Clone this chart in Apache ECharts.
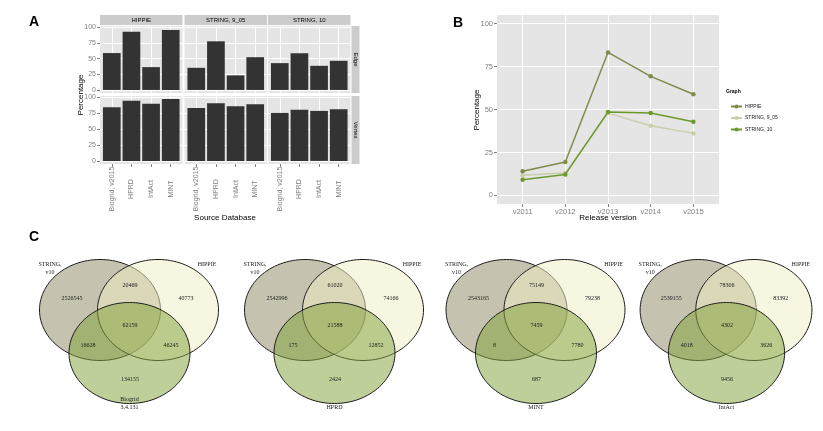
<!DOCTYPE html>
<html>
<head>
<meta charset="utf-8">
<script src="https://cdn.jsdelivr.net/npm/echarts@6/dist/echarts.min.js"></script>
<style>
html, body { margin: 0; padding: 0; background: #fff; }
#chart { width: 823px; height: 431px; }
</style>
</head>
<body>
<div id="chart"></div>
<script>
// panel A: share of source db covered, per graph and measure
const sources = ['Biogrid, v2015', 'HPRD', 'IntAct', 'MINT'];
const graphs = ['HIPPIE', 'STRING, 9_05', 'STRING, 10'];
const measures = ['Edge', 'Vertex'];
const edgeHIPPIE = [59, 93, 36.5, 95.8];
const edgeString905 = [35.4, 77.8, 23.3, 52.4];
const edgeString10 = [42.9, 58.7, 38.6, 46.6];
const vertexHIPPIE = [84.5, 94.8, 90.2, 97.4];
const vertexString905 = [83.4, 90.7, 86, 89.1];
const vertexString10 = [75.6, 80.8, 78.8, 81.3];
const percentTicks = [0, 25, 50, 75, 100];

// panel B
const releases = ['v2011', 'v2012', 'v2013', 'v2014', 'v2015'];
const lineHIPPIE = [14.1, 19.5, 83.2, 69.3, 58.9];
const lineString905 = [11.8, 13, 47.9, 40.5, 36.1];
const lineString10 = [9.1, 12.2, 48.6, 47.9, 42.9];

// panel C: regions = STRING only, STRING&HIPPIE, HIPPIE only, all, STRING&third, HIPPIE&third, third only
const vennLeftSet = 'STRING,\nv10';
const vennRightSet = 'HIPPIE';
const vennThird = ['Biogrid\n3.4.131', 'HPRD', 'MINT', 'IntAct'];
const countsBiogrid = [2526545, 20469, 40773, 62159, 16628, 46245, 134155];
const countsHPRD = [2542996, 61020, 74166, 21588, 175, 12852, 2424];
const countsMINT = [2543165, 75149, 79238, 7459, 8, 7780, 687];
const countsIntAct = [2539155, 78306, 83392, 4302, 4018, 3626, 9456];

const sans = '"Liberation Sans", Arial, sans-serif';
const serif = '"Liberation Serif", "Times New Roman", serif';
const grey = '#7f7f7f';

const edgeRows = [edgeHIPPIE, edgeString905, edgeString10];
const vertexRows = [vertexHIPPIE, vertexString905, vertexString10];
const facetData = [edgeRows, vertexRows];

// facet layout
const colLeft = [100, 184.5, 268], colW = 82.5;
const rowTop = [26, 96], rowH = [67, 68];
const barW = colW / 4.2 * 0.9;

const grid = [], xAxis = [], yAxis = [], series = [];
let gi = 0;
for (let r = 0; r < 2; r++) {
  for (let c = 0; c < 3; c++) {
    grid.push({ left: colLeft[c], top: rowTop[r], width: colW, height: rowH[r],
      show: true, backgroundColor: '#e5e5e5', borderWidth: 0 });
    xAxis.push({ gridIndex: gi, type: 'value', min: 0.4, max: 4.6,
      axisLine: { show: false, onZero: false },
      axisTick: { show: r === 1, length: 3, lineStyle: { color: grey }, customValues: [1, 2, 3, 4] },
      axisLabel: { show: r === 1, rotate: 90, margin: 25, align: 'center', verticalAlign: 'middle',
        fontSize: 7, color: grey, fontFamily: sans,
        customValues: [1, 2, 3, 4], formatter: v => sources[v - 1] },
      splitLine: { show: true, lineStyle: { color: '#fff', width: 1 } } });
    yAxis.push({ gridIndex: gi, type: 'value', min: -4.9, max: 102.3,
      axisLine: { show: false },
      axisTick: { show: c === 0, length: 3, lineStyle: { color: grey }, customValues: percentTicks },
      axisLabel: { show: c === 0, margin: 4, fontSize: 7, color: grey, fontFamily: sans,
        customValues: percentTicks },
      splitLine: { show: true, lineStyle: { color: '#fff', width: 1 } } });
    series.push({ type: 'bar', xAxisIndex: gi, yAxisIndex: gi, barWidth: barW,
      itemStyle: { color: '#333333' }, silent: true,
      data: facetData[r][c].map((v, i) => [i + 1, v]) });
    gi++;
  }
}

// panel B
const lineColors = ['#7d8c4a', '#c8cfa9', '#6a9a2a'];
grid.push({ left: 497, top: 15, width: 222, height: 189, show: true, backgroundColor: '#e5e5e5', borderWidth: 0 });
xAxis.push({ gridIndex: gi, type: 'value', min: 0.4, max: 5.6,
  axisLine: { show: false, onZero: false },
  axisTick: { show: true, length: 3, lineStyle: { color: grey }, customValues: [1, 2, 3, 4, 5] },
  axisLabel: { margin: 4, fontSize: 7.5, color: grey, fontFamily: sans,
    customValues: [1, 2, 3, 4, 5], formatter: v => releases[v - 1] },
  splitLine: { show: true, lineStyle: { color: '#fff', width: 1 } } });
yAxis.push({ gridIndex: gi, type: 'value', min: -5, max: 105,
  axisLine: { show: false },
  axisTick: { show: true, length: 3, lineStyle: { color: grey }, customValues: percentTicks },
  axisLabel: { margin: 4, fontSize: 7.5, color: grey, fontFamily: sans, customValues: percentTicks },
  splitLine: { show: true, lineStyle: { color: '#fff', width: 1 } } });
[lineHIPPIE, lineString905, lineString10].forEach((d, k) => {
  series.push({ type: 'line', name: graphs[k], xAxisIndex: gi, yAxisIndex: gi,
    symbol: 'circle', symbolSize: 4.5, z: k === 1 ? 2 : 3,
    lineStyle: { color: lineColors[k], width: 1.5 },
    itemStyle: { color: lineColors[k] },
    data: d.map((v, i) => [i + 1, v]) });
});
gi++;

// panel C venn template (units of the hidden grid, y down)
const vennLeft = [30, 235, 436.5, 631];
const vennCentres = [[70, 70], [128, 70], [99.5, 113]];
const vennRx = 60.5, vennRy = 50.5;
const vennFills = ['rgba(140,135,95,0.5)', 'rgba(240,238,195,0.5)', 'rgba(130,163,60,0.52)'];
const vennSpots = [[42, 58], [100, 45.5], [156, 58], [100, 85], [58, 105], [141, 105], [100, 139]];
const vennCounts = [countsBiogrid, countsHPRD, countsMINT, countsIntAct];

vennCounts.forEach((counts, v) => {
  grid.push({ left: vennLeft[v], top: 240, width: 200, height: 180 });
  xAxis.push({ gridIndex: gi, type: 'value', min: 0, max: 200, show: false });
  yAxis.push({ gridIndex: gi, type: 'value', min: 0, max: 180, inverse: true, show: false });
  series.push({ type: 'custom', xAxisIndex: gi, yAxisIndex: gi, silent: true,
    data: vennCentres,
    renderItem: (params, api) => {
      const cx = api.value(0), cy = api.value(1);
      const pts = [];
      for (let k = 0; k < 120; k++) {
        const t = k / 120 * Math.PI * 2;
        pts.push(api.coord([cx + vennRx * Math.cos(t), cy + vennRy * Math.sin(t)]));
      }
      return { type: 'polygon', shape: { points: pts },
        style: { fill: vennFills[params.dataIndex], stroke: '#1e1e1e', lineWidth: 1 } };
    } });
  const labels = counts.map(String).concat([vennLeftSet, vennRightSet, vennThird[v]]);
  const spots = vennSpots.concat([[20, 28.5], [177, 24], [99.5, 172]]);
  series.push({ type: 'custom', xAxisIndex: gi, yAxisIndex: gi, silent: true, z: 5,
    data: spots,
    renderItem: (params, api) => {
      const p = api.coord([api.value(0), api.value(1)]);
      const i = params.dataIndex;
      return { type: 'text', x: p[0], y: p[1],
        style: { text: labels[i], fill: '#1a1a1a', fontSize: 6, fontFamily: serif, lineHeight: 8.5,
          align: 'center', verticalAlign: i === 9 ? 'bottom' : 'middle' } };
    } });
  gi++;
});

// strips, panel letters, axis titles
const graphic = [];
const txt = (x, y, text, size, extra) => Object.assign({ type: 'text', x: x, y: y,
  style: { text: text, fontSize: size, fontFamily: sans, fill: '#000', align: 'center', verticalAlign: 'middle' } }, extra || {});
const bold = (x, y, text) => ({ type: 'text', x: x, y: y,
  style: { text: text, fontSize: 14, fontWeight: 'bold', fontFamily: sans, fill: '#000', align: 'center', verticalAlign: 'middle' } });
graphs.forEach((g, c) => {
  graphic.push({ type: 'rect', shape: { x: colLeft[c], y: 15, width: colW, height: 10 }, style: { fill: '#cccccc' } });
  graphic.push(txt(colLeft[c] + colW / 2, 20, g, 6));
});
measures.forEach((m, r) => {
  graphic.push({ type: 'rect', shape: { x: 351.5, y: rowTop[r], width: 8, height: rowH[r] }, style: { fill: '#cccccc' } });
  graphic.push(txt(355.5, rowTop[r] + rowH[r] / 2, m, 6, { rotation: -Math.PI / 2 }));
});
graphic.push(bold(34, 22, 'A'));
graphic.push(bold(458, 23, 'B'));
graphic.push(bold(34, 237, 'C'));
graphic.push(txt(81, 95, 'Percentage', 8, { rotation: Math.PI / 2 }));
graphic.push(txt(225, 218, 'Source Database', 8));
graphic.push(txt(477, 110, 'Percentage', 8, { rotation: Math.PI / 2 }));
graphic.push(txt(608, 218, 'Release version', 8));
graphic.push({ type: 'text', x: 726, y: 92, style: { text: 'Graph', fontSize: 5, fontWeight: 'bold', fontFamily: sans, fill: '#000', verticalAlign: 'middle' } });

const chart = echarts.init(document.getElementById('chart'));
chart.setOption({
  animation: false,
  backgroundColor: '#fff',
  grid: grid,
  xAxis: xAxis,
  yAxis: yAxis,
  legend: { data: graphs, orient: 'vertical', left: 725, top: 99, itemWidth: 11, itemHeight: 5, itemGap: 6.5,
    selectedMode: false, textStyle: { fontSize: 5, color: '#1a1a1a', fontFamily: sans, padding: [0, 0, 0, -2] } },
  graphic: graphic,
  series: series
});
</script>
</body>
</html>
